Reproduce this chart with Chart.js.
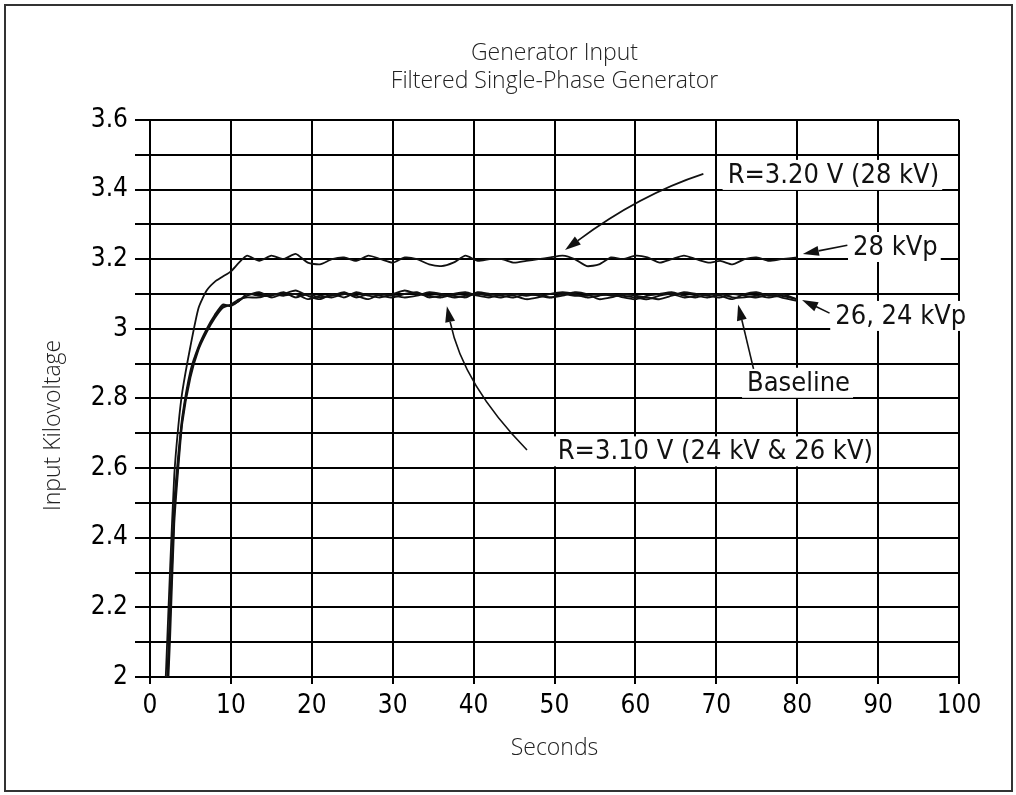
<!DOCTYPE html>
<html>
<head>
<meta charset="utf-8">
<title>Generator Input</title>
<script src="https://cdn.jsdelivr.net/npm/chart.js@4"></script>
<style>
  html, body { margin: 0; padding: 0; background: #fff; }
  canvas { display: block; }
</style>
</head>
<body>
<canvas id="chart" width="1016" height="795"></canvas>
<script>
// time axis (seconds) shared by every trace
const seconds = [1.5, 2, 2.5, 3, 3.5, 4, 5, 6, 7, 8, 9, 10, 11, 12,
  13.5, 15, 16.5, 18, 19.5, 21, 22.5, 24, 25.5, 27,
  28.5, 30, 31.5, 33, 34.5, 36, 37.5, 39, 40.5, 42,
  43.5, 45, 46.5, 48, 49.5, 51, 52.5, 54, 55.5, 57,
  58.5, 60, 61.5, 63, 64.5, 66, 67.5, 69, 70.5, 72,
  73.5, 75, 76.5, 78, 80];

// input kilovoltage
const kvp28 = [1.75, 2.03, 2.32, 2.58, 2.72, 2.82, 2.95, 3.06, 3.11, 3.135, 3.15, 3.165, 3.19, 3.21,
  3.195, 3.21, 3.2, 3.215, 3.19, 3.185, 3.2, 3.205, 3.195, 3.21,
  3.2, 3.19, 3.205, 3.2, 3.185, 3.18, 3.19, 3.21, 3.195, 3.2,
  3.2, 3.19, 3.195, 3.2, 3.205, 3.21, 3.2, 3.18, 3.185, 3.205,
  3.2, 3.21, 3.205, 3.19, 3.2, 3.21, 3.2, 3.19, 3.195, 3.185,
  3.2, 3.205, 3.195, 3.2, 3.205];

const kvp26 = [1.7, 1.92, 2.22, 2.5, 2.64, 2.75, 2.88, 2.95, 3.0, 3.04, 3.07, 3.065, 3.08, 3.095,
  3.105, 3.09, 3.1, 3.11, 3.095, 3.085, 3.1, 3.09, 3.105, 3.095,
  3.09, 3.1, 3.11, 3.1, 3.095, 3.09, 3.1, 3.105, 3.095, 3.09,
  3.1, 3.095, 3.085, 3.09, 3.1, 3.105, 3.1, 3.09, 3.095, 3.1,
  3.09, 3.085, 3.095, 3.1, 3.105, 3.095, 3.09, 3.1, 3.095, 3.085,
  3.1, 3.105, 3.095, 3.1, 3.085];

const kvp24 = [1.62, 1.85, 2.12, 2.44, 2.6, 2.73, 2.86, 2.94, 2.99, 3.03, 3.06, 3.07, 3.085, 3.09,
  3.09, 3.1, 3.095, 3.1, 3.085, 3.095, 3.09, 3.1, 3.095, 3.085,
  3.1, 3.095, 3.09, 3.095, 3.105, 3.1, 3.09, 3.095, 3.1, 3.095,
  3.09, 3.1, 3.095, 3.1, 3.09, 3.095, 3.105, 3.1, 3.085, 3.09,
  3.1, 3.095, 3.09, 3.085, 3.095, 3.105, 3.1, 3.095, 3.09, 3.1,
  3.095, 3.09, 3.1, 3.09, 3.08];

const baseline = [1.66, 1.88, 2.18, 2.47, 2.62, 2.74, 2.87, 2.945, 2.995, 3.035, 3.065, 3.068, 3.08, 3.1,
  3.095, 3.095, 3.105, 3.09, 3.1, 3.09, 3.095, 3.105, 3.09, 3.1,
  3.095, 3.09, 3.1, 3.105, 3.09, 3.095, 3.095, 3.09, 3.105, 3.1,
  3.095, 3.09, 3.1, 3.095, 3.09, 3.1, 3.095, 3.095, 3.1, 3.095,
  3.095, 3.09, 3.085, 3.095, 3.1, 3.09, 3.095, 3.09, 3.1, 3.09,
  3.09, 3.095, 3.09, 3.095, 3.085];

const seriesNames = ['28 kVp', '26 kVp', '24 kVp', 'Baseline'];
const seriesValues = [kvp28, kvp26, kvp24, baseline];

// callouts in data units (seconds, kV)
const notes = [
  { text: 'R=3.20 V (28 kV)', x: 71.4, y: 3.442 },
  { text: '28 kVp', x: 86.9, y: 3.235 },
  { text: '26, 24 kVp', x: 84.7, y: 3.037 },
  { text: 'Baseline', x: 73.8, y: 2.845 },
  { text: 'R=3.10 V (24 kV & 26 kV)', x: 50.4, y: 2.648 }
];
const arrows = [
  { from: [68.4, 3.445], ctrl: [60.5, 3.385], to: [51.3, 3.226] },
  { from: [86.2, 3.24], to: [80.7, 3.215] },
  { from: [84.0, 3.045], to: [80.6, 3.083] },
  { from: [74.6, 2.885], to: [72.7, 3.07] },
  { from: [46.6, 2.652], ctrl: [38.7, 2.84], to: [36.7, 3.065] }
];

const narrow = "'Liberation Sans Narrow', 'DejaVu Sans Condensed', 'Arial Narrow', sans-serif";
const sans = "'Open Sans', 'Noto Sans', sans-serif";

const calloutPlugin = {
  id: 'callouts',
  afterDatasetsDraw(chart) {
    const { ctx, scales: { x, y } } = chart;
    const px = p => [x.getPixelForValue(p[0]), y.getPixelForValue(p[1])];
    ctx.save();
    ctx.font = '27px ' + narrow;
    ctx.textBaseline = 'middle';
    ctx.textAlign = 'left';
    notes.forEach(n => {
      const [nx, ny] = px([n.x, n.y]);
      const w = ctx.measureText(n.text).width;
      ctx.fillStyle = '#fff';
      ctx.fillRect(nx - 5, ny - 15, w + 8, 30);
      ctx.fillStyle = '#111';
      ctx.fillText(n.text, nx, ny + 1);
    });

    ctx.strokeStyle = '#111';
    ctx.fillStyle = '#111';
    ctx.lineWidth = 1.6;
    arrows.forEach(a => {
      const p0 = px(a.from), p1 = px(a.to);
      const c = a.ctrl ? px(a.ctrl) : [(p0[0] + p1[0]) / 2, (p0[1] + p1[1]) / 2];
      const ang = Math.atan2(p1[1] - c[1], p1[0] - c[0]);
      const len = 16, half = 5;
      const bx = p1[0] - len * Math.cos(ang), by = p1[1] - len * Math.sin(ang);
      ctx.beginPath();
      ctx.moveTo(p0[0], p0[1]);
      ctx.quadraticCurveTo(c[0], c[1], bx, by);
      ctx.stroke();
      ctx.beginPath();
      ctx.moveTo(p1[0], p1[1]);
      ctx.lineTo(bx + half * Math.sin(ang), by - half * Math.cos(ang));
      ctx.lineTo(bx - half * Math.sin(ang), by + half * Math.cos(ang));
      ctx.closePath();
      ctx.fill();
    });
    ctx.restore();
  },
  afterDraw(chart) {
    const { ctx, chartArea } = chart;
    ctx.save();
    // y axis title, sits a little below the plot's middle in the original
    ctx.font = '300 23px ' + sans;
    ctx.fillStyle = '#222';
    ctx.textAlign = 'center';
    ctx.textBaseline = 'middle';
    ctx.translate(chartArea.left - 97, (chartArea.top + chartArea.bottom) / 2 + 27);
    ctx.rotate(-Math.PI / 2);
    ctx.fillText('Input Kilovoltage', 0, 0);
    ctx.restore();
    // outer frame
    ctx.save();
    ctx.strokeStyle = '#333';
    ctx.lineWidth = 2;
    ctx.strokeRect(5, 5, chart.width - 9, chart.height - 9);
    ctx.restore();
  }
};

const datasets = seriesNames.map((name, i) => ({
  label: name,
  data: seconds.map((s, j) => ({ x: s, y: seriesValues[i][j] })),
  borderColor: '#111',
  borderWidth: 1.8,
  pointRadius: 0,
  tension: 0.2,
  fill: false
}));

new Chart(document.getElementById('chart'), {
  type: 'line',
  data: { datasets },
  plugins: [calloutPlugin],
  options: {
    responsive: false,
    animation: false,
    layout: { padding: { left: 40, right: 57, top: 0, bottom: 0 } },
    plugins: {
      legend: { display: false },
      tooltip: { enabled: false },
      title: {
        display: true,
        text: ['Generator Input', 'Filtered Single-Phase Generator'],
        fullSize: false,
        color: '#222',
        font: { family: sans, size: 23, weight: '300', lineHeight: 1.25 },
        padding: { top: 38.6, bottom: 23.8 }
      }
    },
    scales: {
      x: {
        type: 'linear',
        min: 0,
        max: 100,
        ticks: { stepSize: 10, color: '#000', padding: 7, font: { family: narrow, size: 26 } },
        grid: { color: '#000', lineWidth: 2, tickLength: 7 },
        border: { color: '#000', width: 2 },
        title: {
          display: true,
          text: 'Seconds',
          color: '#222',
          font: { family: sans, size: 23, weight: '300' },
          padding: { top: 0, bottom: 33 }
        },
        afterFit: s => { s.height = 118; }
      },
      y: {
        min: 2,
        max: 3.6,
        ticks: {
          stepSize: 0.1,
          color: '#000',
          padding: 7,
          font: { family: narrow, size: 26 },
          callback: v => (Math.round(v * 10) % 2 === 0 ? String(Number(v.toFixed(1))) : '')
        },
        grid: { color: '#000', lineWidth: 2, tickLength: 15 },
        border: { color: '#000', width: 2 },
        afterFit: s => { s.width = 110; }
      }
    }
  }
});
</script>
</body>
</html>
